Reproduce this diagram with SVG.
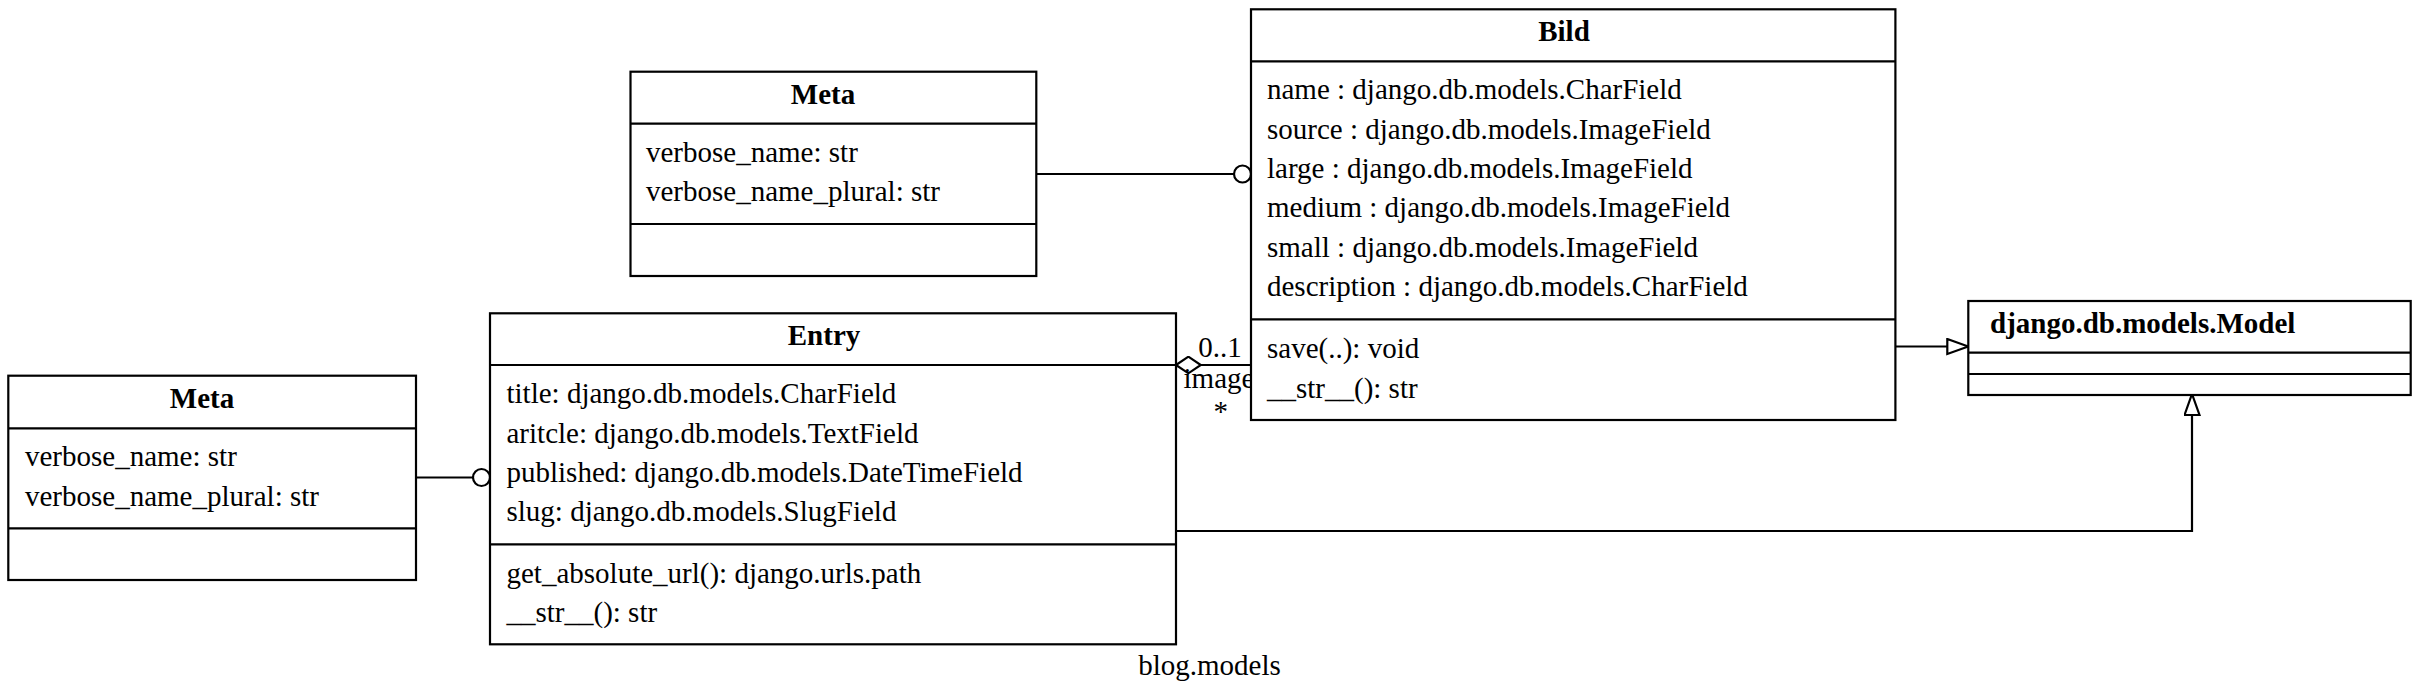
<svg xmlns="http://www.w3.org/2000/svg" width="2419" height="700" viewBox="0 0 2419 700">
<style>
  .box { fill: #ffffff; stroke: #000000; stroke-width: 2.2; }
  .sep { stroke: #000000; stroke-width: 2.2; }
  .edge { fill: none; stroke: #000000; stroke-width: 2.2; }
  text { font-family: "Liberation Serif", "Times New Roman", serif; font-size: 29px; fill: #000000; }
  .title { font-weight: bold; text-anchor: middle; }
  .titleL { font-weight: bold; }
  .lbl { text-anchor: middle; }
</style>
<defs>
  <marker id="gen" markerUnits="userSpaceOnUse" markerWidth="24" markerHeight="18" viewBox="-1 -1 24 18" refX="21" refY="7.5" orient="auto">
    <path d="M0,0 L21,7.5 L0,15 Z" fill="#ffffff" stroke="#000000" stroke-width="2.2"/>
  </marker>
  <marker id="lolli" markerUnits="userSpaceOnUse" markerWidth="22" markerHeight="22" viewBox="0 0 22 22" refX="19.5" refY="11" orient="auto">
    <circle cx="11" cy="11" r="8.5" fill="#ffffff" stroke="#000000" stroke-width="2.2"/>
  </marker>
  <marker id="agg" markerUnits="userSpaceOnUse" markerWidth="28" markerHeight="20" viewBox="-1 -1 28 20" refX="0" refY="8.3" orient="auto">
    <path d="M0,8.3 L12.4,0 L24.8,8.3 L12.4,16.6 Z" fill="#ffffff" stroke="#000000" stroke-width="2.2"/>
  </marker>
</defs>
<rect width="2419" height="700" fill="#ffffff"/>

<g id="connectors">
  <line class="edge" x1="1036.3" y1="174" x2="1251" y2="174" marker-end="url(#lolli)"/>
  <line class="edge" x1="416" y1="477.5" x2="490" y2="477.5" marker-end="url(#lolli)"/>
  <line class="edge" x1="1176" y1="365" x2="1251" y2="365" marker-start="url(#agg)"/>
  <line class="edge" x1="1895.4" y1="346.5" x2="1968.3" y2="346.5" marker-end="url(#gen)"/>
  <polyline class="edge" points="1176,531 2192,531 2192,394" marker-end="url(#gen)"/>
  <text x="1220" y="357.3" class="lbl">0..1</text>
  <text x="1219" y="388.3" class="lbl">image</text>
  <text x="1220.7" y="421" class="lbl">*</text>
</g>

<g id="meta_bild">
  <rect class="box" x="630.5" y="71.7" width="405.8" height="204.3"/>
  <line class="sep" x1="630.5" y1="123.7" x2="1036.3" y2="123.7"/>
  <line class="sep" x1="630.5" y1="224" x2="1036.3" y2="224"/>
  <text x="823" y="103.5" class="title">Meta</text>
  <text x="646" y="161.8">verbose_name: str</text>
  <text x="646" y="201.4">verbose_name_plural: str</text>
</g>

<g id="meta_entry">
  <rect class="box" x="8.3" y="375.7" width="407.7" height="204.3"/>
  <line class="sep" x1="8.3" y1="428.3" x2="416" y2="428.3"/>
  <line class="sep" x1="8.3" y1="528.3" x2="416" y2="528.3"/>
  <text x="202" y="407.7" class="title">Meta</text>
  <text x="25" y="466">verbose_name: str</text>
  <text x="25" y="505.6">verbose_name_plural: str</text>
</g>

<g id="entry">
  <rect class="box" x="490" y="313.3" width="686" height="331"/>
  <line class="sep" x1="490" y1="365" x2="1176" y2="365"/>
  <line class="sep" x1="490" y1="544.3" x2="1176" y2="544.3"/>
  <text x="824" y="345" class="title">Entry</text>
  <text x="506.5" y="403.3">title: django.db.models.CharField</text>
  <text x="506.5" y="442.5">aritcle: django.db.models.TextField</text>
  <text x="506.5" y="481.8">published: django.db.models.DateTimeField</text>
  <text x="506.5" y="521">slug: django.db.models.SlugField</text>
  <text x="506.5" y="582.7">get_absolute_url(): django.urls.path</text>
  <text x="506.5" y="621.9">__str__(): str</text>
</g>

<g id="bild">
  <rect class="box" x="1251" y="9.3" width="644.4" height="410.7"/>
  <line class="sep" x1="1251" y1="61.3" x2="1895.4" y2="61.3"/>
  <line class="sep" x1="1251" y1="319.3" x2="1895.4" y2="319.3"/>
  <text x="1564" y="40.7" class="title">Bild</text>
  <text x="1267" y="99.3">name : django.db.models.CharField</text>
  <text x="1267" y="138.6">source : django.db.models.ImageField</text>
  <text x="1267" y="177.9">large : django.db.models.ImageField</text>
  <text x="1267" y="217.2">medium : django.db.models.ImageField</text>
  <text x="1267" y="256.5">small : django.db.models.ImageField</text>
  <text x="1267" y="295.8">description : django.db.models.CharField</text>
  <text x="1267" y="358.3">save(..): void</text>
  <text x="1267" y="397.6">__str__(): str</text>
</g>

<g id="model">
  <rect class="box" x="1968.3" y="301" width="442.4" height="94"/>
  <line class="sep" x1="1968.3" y1="352.7" x2="2410.7" y2="352.7"/>
  <line class="sep" x1="1968.3" y1="374" x2="2410.7" y2="374"/>
  <text x="1990" y="332.5" class="titleL">django.db.models.Model</text>
</g>

<g id="package_label">
  <text x="1209.5" y="675" class="lbl">blog.models</text>
</g>
</svg>
